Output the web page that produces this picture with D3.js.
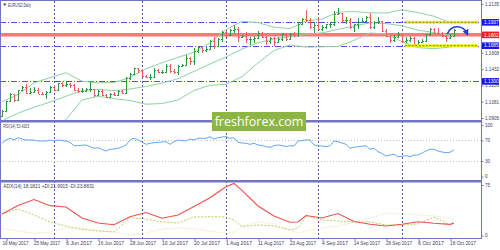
<!DOCTYPE html>
<html>
<head>
<meta charset="utf-8">
<script src="https://cdn.jsdelivr.net/npm/d3@7"></script>
<style>
    body { margin: 0; background: #fff; }
    svg { display: block; font-family: "Liberation Sans", Arial, sans-serif; }
</style>
</head>
<body>
<div id="chart"></div>
<script>
// EURUSD daily bars, 15 May 2017 (index 0) .. 19 Oct 2017 (index 113)
const opens = [
    1.0930,1.0980,1.1084,1.1161,1.1101,1.1206,1.1242,1.1180,1.1186,1.1211,
    1.1166,1.1163,1.1183,1.1243,1.1211,1.1282,1.1256,1.1276,1.1257,1.1212,
    1.1196,1.1197,1.1213,1.1218,1.1150,1.1198,1.1148,1.1132,1.1166,1.1151,
    1.1195,1.1180,1.1338,1.1375,1.1442,1.1425,1.1360,1.1347,1.1352,1.1422,
    1.1400,1.1401,1.1465,1.1414,1.1398,1.1469,1.1477,1.1556,1.1516,1.1631,
    1.1666,1.1641,1.1651,1.1735,1.1678,1.1752,1.1838,1.1801,1.1858,1.1867,
    1.1775,1.1792,1.1754,1.1759,1.1771,1.1822,1.1780,1.1738,1.1770,1.1724,
    1.1760,1.1812,1.1760,1.1806,1.1801,1.1922,1.1975,1.1967,1.1888,1.1906,
    1.1860,1.1888,1.1914,1.1920,1.2023,1.2035,1.1957,1.1967,1.1887,1.1920,
    1.1943,1.1953,1.1997,1.1892,1.1938,1.1948,1.1846,1.1792,1.1745,1.1783,
    1.1814,1.1733,1.1745,1.1763,1.1706,1.1730,1.1737,1.1809,1.1860,1.1826,
    1.1821,1.1795,1.1765,1.1790];
const highs = [
    1.0990,1.1090,1.1171,1.1165,1.1212,1.1249,1.1268,1.1228,1.1237,1.1225,
    1.1188,1.1192,1.1251,1.1259,1.1285,1.1294,1.1296,1.1282,1.1270,1.1228,
    1.1230,1.1225,1.1296,1.1220,1.1212,1.1213,1.1165,1.1178,1.1185,1.1206,
    1.1210,1.1350,1.1389,1.1445,1.1446,1.1429,1.1368,1.1382,1.1446,1.1433,
    1.1419,1.1489,1.1490,1.1437,1.1478,1.1486,1.1583,1.1560,1.1659,1.1683,
    1.1678,1.1675,1.1744,1.1777,1.1763,1.1846,1.1845,1.1869,1.1910,1.1883,
    1.1805,1.1830,1.1774,1.1785,1.1846,1.1836,1.1791,1.1779,1.1779,1.1778,
    1.1826,1.1818,1.1822,1.1830,1.1940,1.1983,1.2070,1.1984,1.1937,1.1980,
    1.1905,1.1922,1.1943,1.2059,1.2092,1.2039,1.1998,1.1984,1.1921,1.1988,
    1.1983,1.2007,1.2034,1.1947,1.1999,1.1956,1.1862,1.1805,1.1797,1.1834,
    1.1815,1.1780,1.1787,1.1778,1.1750,1.1760,1.1815,1.1880,1.1878,1.1872,
    1.1835,1.1804,1.1816,1.1860];
const lows = [
    1.0922,1.0975,1.1075,1.1075,1.1097,1.1195,1.1166,1.1160,1.1175,1.1162,
    1.1152,1.1110,1.1175,1.1196,1.1205,1.1240,1.1243,1.1226,1.1196,1.1175,
    1.1175,1.1190,1.1183,1.1132,1.1142,1.1138,1.1120,1.1119,1.1140,1.1146,
    1.1165,1.1172,1.1319,1.1370,1.1391,1.1350,1.1333,1.1312,1.1343,1.1390,
    1.1385,1.1388,1.1390,1.1383,1.1370,1.1453,1.1476,1.1479,1.1480,1.1603,
    1.1611,1.1614,1.1637,1.1649,1.1672,1.1724,1.1776,1.1786,1.1825,1.1729,
    1.1763,1.1711,1.1688,1.1712,1.1766,1.1772,1.1688,1.1706,1.1681,1.1709,
    1.1731,1.1741,1.1752,1.1780,1.1776,1.1912,1.1937,1.1865,1.1823,1.1856,
    1.1849,1.1864,1.1880,1.1897,1.2011,1.1945,1.1923,1.1868,1.1837,1.1865,
    1.1938,1.1942,1.1861,1.1862,1.1915,1.1838,1.1778,1.1717,1.1722,1.1770,
    1.1718,1.1712,1.1728,1.1692,1.1669,1.1712,1.1730,1.1792,1.1825,1.1810,
    1.1776,1.1730,1.1760,1.1787];
const closes = [
    1.0980,1.1084,1.1161,1.1101,1.1206,1.1242,1.1180,1.1186,1.1211,1.1166,
    1.1163,1.1183,1.1243,1.1211,1.1282,1.1256,1.1276,1.1257,1.1212,1.1196,
    1.1197,1.1213,1.1218,1.1150,1.1198,1.1148,1.1132,1.1166,1.1151,1.1195,
    1.1180,1.1338,1.1375,1.1442,1.1425,1.1360,1.1347,1.1352,1.1422,1.1400,
    1.1401,1.1465,1.1414,1.1398,1.1469,1.1477,1.1556,1.1516,1.1631,1.1666,
    1.1641,1.1651,1.1735,1.1678,1.1752,1.1838,1.1801,1.1858,1.1867,1.1775,
    1.1792,1.1754,1.1759,1.1771,1.1822,1.1780,1.1738,1.1770,1.1724,1.1760,
    1.1812,1.1760,1.1806,1.1801,1.1922,1.1975,1.1967,1.1888,1.1906,1.1860,
    1.1888,1.1914,1.1920,1.2023,1.2035,1.1957,1.1967,1.1887,1.1920,1.1943,
    1.1953,1.1997,1.1892,1.1938,1.1948,1.1846,1.1792,1.1745,1.1783,1.1814,
    1.1733,1.1745,1.1763,1.1706,1.1730,1.1737,1.1809,1.1860,1.1826,1.1821,
    1.1795,1.1765,1.1790,1.1850];

// Bollinger bands (read every 4 bars)
const bbIdx = [0,4,8,12,16,20,24,28,32,36,40,44,48,52,56,60,64,68,72,76,80,84,88,92,96,100,104,108,112,113];
const bbUpper = [1.1080,1.1159,1.1284,1.1340,1.1393,1.1302,1.1285,1.1288,1.1342,1.1436,1.1501,1.1559,1.1613,1.1718,1.1858,
                 1.1948,1.1935,1.1884,1.1870,1.1952,1.1973,1.2048,1.2053,1.2040,1.2038,1.2072,1.2042,1.2003,1.1935,1.1925];
const bbMiddle = [1.0873,1.0957,1.1020,1.1077,1.1140,1.1201,1.1212,1.1201,1.1218,1.1245,1.1281,1.1329,1.1408,1.1488,1.1563,
                  1.1649,1.1717,1.1759,1.1781,1.1811,1.1823,1.1862,1.1898,1.1931,1.1924,1.1900,1.1853,1.1828,1.1797,1.1793];
const bbLower = [1.0666,1.0755,1.0756,1.0814,1.0887,1.1100,1.1139,1.1114,1.1094,1.1054,1.1061,1.1099,1.1203,1.1258,1.1268,
                 1.1351,1.1499,1.1634,1.1692,1.1670,1.1673,1.1676,1.1743,1.1822,1.1810,1.1728,1.1664,1.1653,1.1671,1.1683];

// RSI(14), one value per bar
const rsi = [
    64.5,70.9,74.2,70.9,75.3,72.8,70.9,70.9,70.9,68.9,
    68.9,68.9,70.9,68.9,70.9,69.9,68.9,66.4,59.8,59.8,
    60.6,61.2,57.9,54.8,55.9,52.4,49.5,52.8,53.4,54.8,
    57.3,61.2,70.9,74.2,70.9,67.0,62.5,64.5,65.6,66.4,
    67.0,67.6,62.5,67.6,70.9,69.9,68.9,72.8,70.9,74.2,
    74.2,74.2,77.3,72.8,75.3,76.7,77.3,74.2,75.3,66.4,
    65.1,64.5,62.5,64.5,61.2,60.2,57.9,56.7,59.8,61.2,
    60.2,57.9,59.8,59.2,68.9,69.9,70.9,70.9,61.2,59.8,
    59.2,57.9,59.8,68.9,67.6,65.1,62.5,54.8,56.7,57.9,
    58.8,59.8,52.8,54.8,48.2,44.7,39.8,41.8,43.1,38.5,
    39.4,40.4,38.5,41.8,41.8,45.6,49.5,52.8,52.8,49.5,
    47.6,46.2,47.0,51.5];
const rsiLevels = [70, 30];

// ADX(14) with +DI / -DI
const adxIdx = [0,4,8,12,16,20,24,28,32,36,40,44,48,52,56,58,60,64,68,72,74,76,80,84,88,92,96,100,104,108,112,113];
const adx = [31.9,44.6,53.5,44.3,42.3,26.0,18.6,15.9,27.9,34.2,25.6,30.5,43.1,56.2,72.5,77.3,
             66.9,43.8,29.0,19.6,20.1,29.7,26.0,32.7,20.8,16.6,14.1,16.6,20.5,18.1,16.6,18.2];
const plusDI = [31.9,39.4,30.5,20.1,14.1,8.9,6.7,5.2,26.0,24.5,20.1,18.6,27.5,27.9,27.5,23.0,
                13.1,15.6,14.1,8.2,11.1,29.0,23.0,21.5,20.1,20.1,15.6,15.6,17.1,27.5,15.6,22.0];
const minusDI = [10.7,6.7,3.3,5.2,11.1,10.7,7.4,5.6,0.7,3.7,9.7,11.1,9.7,6.7,3.3,5.2,
                 14.1,20.1,17.1,8.2,3.7,6.7,11.1,14.1,20.1,26.0,32.7,31.9,30.5,29.0,26.0,23.9];

// axis labels
const dateIdx = [1,8,16,24,32,40,48,56,64,72,80,88,96,104,112];
const dateLabels = ["16 May 2017","25 May 2017","6 Jun 2017","16 Jun 2017","28 Jun 2017","10 Jul 2017","20 Jul 2017",
                    "1 Aug 2017","11 Aug 2017","23 Aug 2017","4 Sep 2017","14 Sep 2017","26 Sep 2017","6 Oct 2017","18 Oct 2017"];
const monthStartIdx = [13,35,56,79,100];
const priceTicks = [1.2135,1.1608,1.1432,1.1256,1.1081,1.0905];
const rsiTicks = [100,70,30,0];
const adxTicks = [75,0];

// drawn levels
const blueLevels = [1.1937, 1.1685, 1.1300];
const redLevel = 1.1802;
const yellowLevels = [1.1937, 1.1685];
const yellowFrom = 100.7, yellowTo = 119;

const bullColor = "#2f9a3a", bearColor = "#f25b5b";
const frameColor = "#7474c6";

let svg = d3.select("#chart").append("svg")
    .attr("width", 500)
    .attr("height", 250);

svg.append("rect").attr("width", 500).attr("height", 250).attr("fill", "#fff");

// scales
let x = d3.scaleLinear().domain([0, 1]).range([2, 6]);
let yP = d3.scaleLinear().domain([1.0905, 1.2135]).range([118, 4]);
let yR = d3.scaleLinear().domain([0, 100]).range([176.5, 125]);
let yA = d3.scaleLinear().domain([0, 75]).range([235.5, 185]);
let axisX = 481;

let defs = svg.append("defs");
[["clipMain", 1, 120], ["clipRsi", 122, 180], ["clipAdx", 182, 238]].forEach(c => {
    defs.append("clipPath").attr("id", c[0])
        .append("rect").attr("x", 1).attr("y", c[1]).attr("width", axisX - 1).attr("height", c[2] - c[1]);
});
defs.append("marker")
    .attr("id", "arrowHead")
    .attr("viewBox", "0 0 10 10")
    .attr("refX", 5).attr("refY", 5)
    .attr("markerWidth", 4).attr("markerHeight", 4)
    .attr("orient", "auto")
    .append("path")
    .attr("d", "M0,0 L10,5 L0,10 z")
    .attr("fill", "#1f3fd6");

// month separators
svg.append("g").selectAll("line")
    .data(monthStartIdx)
    .join("line")
    .attr("x1", d => x(d) + 0.5).attr("x2", d => x(d) + 0.5)
    .attr("y1", 1).attr("y2", 238)
    .attr("stroke", "#5050b8")
    .attr("stroke-width", 1)
    .attr("stroke-dasharray", "2,2");

// ---------- main panel ----------
let main = svg.append("g").attr("clip-path", "url(#clipMain)");

main.selectAll("line.level")
    .data(blueLevels)
    .join("line")
    .attr("class", "level")
    .attr("x1", 0).attr("x2", axisX)
    .attr("y1", d => Math.round(yP(d)) + 0.5).attr("y2", d => Math.round(yP(d)) + 0.5)
    .attr("stroke", "#4d4df0")
    .attr("stroke-dasharray", "6,2,1,2");

main.append("line")
    .attr("x1", 0).attr("x2", axisX)
    .attr("y1", yP(redLevel)).attr("y2", yP(redLevel))
    .attr("stroke", "#ff7777")
    .attr("stroke-width", 3.5);

let bandLine = d3.line()
    .x(d => x(d[0]))
    .y(d => yP(d[1]));
[bbUpper, bbMiddle, bbLower].forEach(band => {
    main.append("path")
        .datum(bbIdx.map((k, i) => [k, band[i]]))
        .attr("d", bandLine)
        .attr("fill", "none")
        .attr("stroke", "#8ed3a3")
        .attr("stroke-width", 1);
});

let bars = main.append("g").selectAll("g")
    .data(d3.range(closes.length))
    .join("g")
    .attr("stroke", i => closes[i] >= opens[i] ? bullColor : bearColor)
    .attr("stroke-width", 1)
    .attr("shape-rendering", "crispEdges");
bars.append("line")
    .attr("x1", i => x(i) + 0.5).attr("x2", i => x(i) + 0.5)
    .attr("y1", i => yP(highs[i])).attr("y2", i => yP(lows[i]));
bars.append("line")
    .attr("x1", i => x(i) - 1).attr("x2", i => x(i) + 0.5)
    .attr("y1", i => Math.round(yP(opens[i])) + 0.5).attr("y2", i => Math.round(yP(opens[i])) + 0.5);
bars.append("line")
    .attr("x1", i => x(i) + 0.5).attr("x2", i => x(i) + 2)
    .attr("y1", i => Math.round(yP(closes[i])) + 0.5).attr("y2", i => Math.round(yP(closes[i])) + 0.5);

// yellow range lines
yellowLevels.forEach(p => {
    main.append("line")
        .attr("x1", x(yellowFrom)).attr("x2", x(yellowTo))
        .attr("y1", yP(p)).attr("y2", yP(p))
        .attr("stroke", "#eeee22").attr("stroke-width", 3);
    main.append("line")
        .attr("x1", x(yellowFrom)).attr("x2", x(yellowTo))
        .attr("y1", yP(p)).attr("y2", yP(p))
        .attr("stroke", "#707010").attr("stroke-width", 0.8)
        .attr("stroke-dasharray", "2,1.5");
});

// curved arrow
main.append("path")
    .attr("d", "M" + x(111.3) + "," + yP(1.1812) +
        " C" + x(112.3) + "," + yP(1.1915) + " " + x(115.2) + "," + yP(1.1912) + " " + x(116.2) + "," + yP(1.1822))
    .attr("fill", "none")
    .attr("stroke", "#1f3fd6")
    .attr("stroke-width", 1.6)
    .attr("marker-end", "url(#arrowHead)");

// ---------- RSI panel ----------
let rsiG = svg.append("g").attr("clip-path", "url(#clipRsi)");
rsiG.selectAll("line")
    .data(rsiLevels)
    .join("line")
    .attr("x1", 0).attr("x2", axisX)
    .attr("y1", d => Math.round(yR(d)) + 0.5).attr("y2", d => Math.round(yR(d)) + 0.5)
    .attr("stroke", "#c4c4c4")
    .attr("stroke-dasharray", "1,2");
rsiG.append("path")
    .datum(rsi)
    .attr("d", d3.line().x((d, i) => x(i)).y(d => yR(d)))
    .attr("fill", "none")
    .attr("stroke", "#63aaf0")
    .attr("stroke-width", 1);

// ---------- ADX panel ----------
let adxG = svg.append("g").attr("clip-path", "url(#clipAdx)");
let adxLine = d3.line().x((d, i) => x(adxIdx[i])).y(d => yA(d));
adxG.append("path").datum(minusDI).attr("d", adxLine)
    .attr("fill", "none").attr("stroke", "#f0d6b4").attr("stroke-width", 1).attr("stroke-dasharray", "1,1.5");
adxG.append("path").datum(plusDI).attr("d", adxLine)
    .attr("fill", "none").attr("stroke", "#b6d266").attr("stroke-width", 1).attr("stroke-dasharray", "2,1.5");
adxG.append("path").datum(adx).attr("d", adxLine)
    .attr("fill", "none").attr("stroke", "#f25050").attr("stroke-width", 1.1);

// ---------- frame ----------
svg.append("line").attr("x1", 0).attr("x2", axisX).attr("y1", 0.5).attr("y2", 0.5).attr("stroke", frameColor);
svg.append("line").attr("x1", 0.5).attr("x2", 0.5).attr("y1", 0).attr("y2", 238).attr("stroke", frameColor);
svg.append("line").attr("x1", axisX + 0.5).attr("x2", axisX + 0.5).attr("y1", 0).attr("y2", 239).attr("stroke", frameColor);
svg.append("line").attr("x1", 0).attr("x2", axisX).attr("y1", 238.5).attr("y2", 238.5).attr("stroke", frameColor);
[120, 180].forEach(y0 => {
    svg.append("rect").attr("x", 0).attr("y", y0).attr("width", axisX).attr("height", 2.5).attr("fill", frameColor);
});

// ---------- axes ----------
let textColor = "#3c3c5c";
let priceAxis = svg.append("g")
    .attr("transform", "translate(" + (axisX + 0.5) + ",0)")
    .call(d3.axisRight(yP).tickValues(priceTicks).tickSize(2).tickPadding(1.5).tickFormat(d3.format(".4f")));
let rsiAxis = svg.append("g")
    .attr("transform", "translate(" + (axisX + 0.5) + ",0)")
    .call(d3.axisRight(yR).tickValues(rsiTicks).tickSize(2).tickPadding(1.5));
let adxAxis = svg.append("g")
    .attr("transform", "translate(" + (axisX + 0.5) + ",0)")
    .call(d3.axisRight(yA).tickValues(adxTicks).tickSize(2).tickPadding(1.5));
let dateAxis = svg.append("g")
    .attr("transform", "translate(0,238.5)")
    .call(d3.axisBottom(x).tickValues(dateIdx).tickSize(2.5).tickPadding(1).tickFormat((d, i) => dateLabels[i]));
dateAxis.selectAll(".tick line").attr("transform", "translate(0.5,0)");
dateAxis.selectAll(".tick text")
    .attr("text-anchor", "start")
    .attr("x", (d, i) => i === 0 ? -4 : -0.5)
    .attr("textLength", 26).attr("lengthAdjust", "spacingAndGlyphs");

[priceAxis, rsiAxis, adxAxis, dateAxis].forEach(a => {
    a.select(".domain").remove();
    a.selectAll(".tick line").attr("stroke", frameColor);
    a.selectAll(".tick text")
        .attr("fill", textColor)
        .style("font-size", "4.6px")
        .style("font-family", "'Liberation Sans', Arial, sans-serif");
});

// boxed price labels
let boxes = blueLevels.map(p => ({ p: p, fill: "#1616f0" })).concat([{ p: redLevel, fill: "#f21c1c" }]);
let boxG = svg.append("g").selectAll("g")
    .data(boxes)
    .join("g")
    .attr("transform", d => "translate(" + (axisX + 1) + "," + yP(d.p) + ")");
boxG.append("rect")
    .attr("x", 0).attr("y", -3.3)
    .attr("width", 17).attr("height", 6.6)
    .attr("fill", d => d.fill);
boxG.append("text")
    .attr("x", 2).attr("y", 1.7)
    .attr("fill", "#fff")
    .style("font-size", "4.8px")
    .text(d => d3.format(".4f")(d.p));

// panel titles
svg.append("path")
    .attr("d", "M3,3.5 L6.5,3.5 L4.75,6 Z")
    .attr("fill", "#3c3c8c");
svg.append("text").attr("x", 8).attr("y", 6.8)
    .attr("fill", textColor).style("font-size", "4.8px")
    .attr("textLength", 23).attr("lengthAdjust", "spacingAndGlyphs")
    .text("EURUSD,Daily");
svg.append("text").attr("x", 3.3).attr("y", 127.5)
    .attr("fill", textColor).style("font-size", "4.8px")
    .attr("textLength", 26).attr("lengthAdjust", "spacingAndGlyphs")
    .text("RSI(14) 53.4203");
svg.append("text").attr("x", 3.3).attr("y", 187.5)
    .attr("fill", textColor).style("font-size", "4.8px")
    .attr("textLength", 91).attr("lengthAdjust", "spacingAndGlyphs")
    .text("ADX(14) 18.1821 +DI:21.9915 -DI:23.8831");

// watermark
let mark = svg.append("g");
mark.append("rect")
    .attr("x", 212).attr("y", 112)
    .attr("width", 94).attr("height", 19)
    .attr("fill", "#8db543");
mark.append("text")
    .attr("x", 259).attr("y", 126)
    .attr("text-anchor", "middle")
    .attr("fill", "#fff")
    .style("font-family", "'Open Sans', 'Noto Sans', sans-serif")
    .style("font-size", "12.5px")
    .text("freshforex.com");
</script>
</body>
</html>
